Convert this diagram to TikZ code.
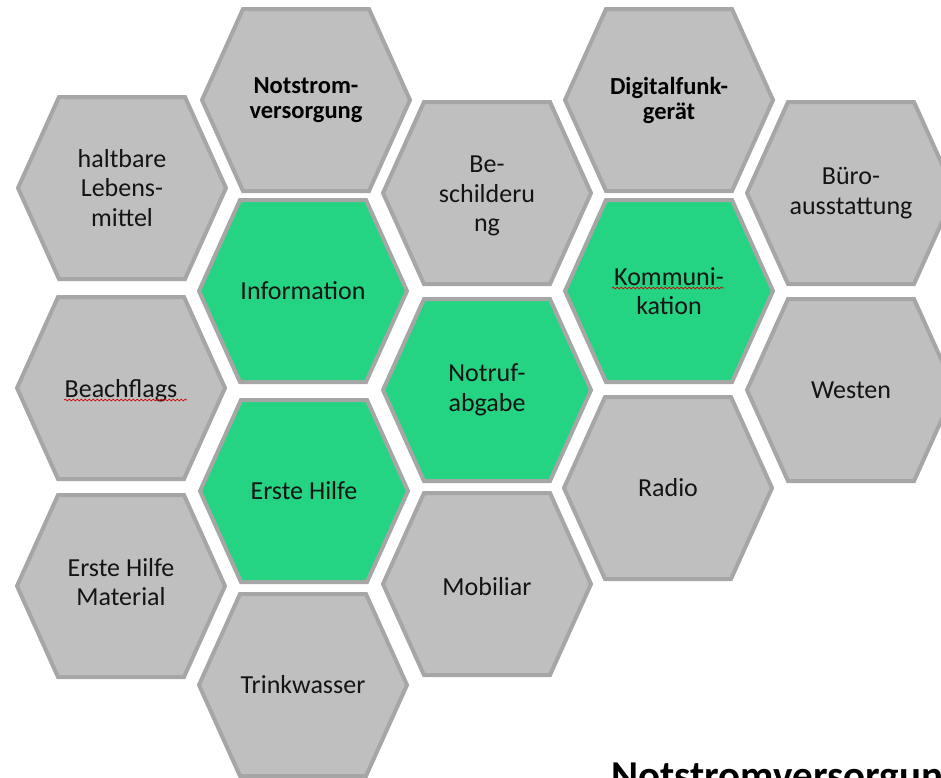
\documentclass[tikz,border=0pt]{standalone}
\usepackage{fontspec}
\setmainfont{Carlito}
\usetikzlibrary{decorations.pathmorphing}
\definecolor{hexgray}{HTML}{BFBFBF}
\definecolor{hexedge}{HTML}{A6A6A6}
\definecolor{hexgreen}{HTML}{24D483}
\definecolor{txtcol}{HTML}{141414}
\newcommand\hexcell[4]{% name, x, y, fill
  \path[hexpath, fill=#4] (#2,#3) ++(-104,0) -- ++(41,-91) -- ++(126,0) -- ++(41,91) -- ++(-41,91) -- ++(-126,0) -- cycle;
  \coordinate (#1) at (#2,#3);
}
\tikzset{
  hexpath/.style={draw=hexedge, line width=4pt, line join=miter},
  hextext/.style={align=center, text=txtcol, font=\fontsize{26}{29.5}\selectfont, inner sep=0pt},
  hexbold/.style={align=center, text=black, font=\fontsize{24.5}{25}\selectfont\bfseries, inner sep=0pt},
  spellline/.style={draw=red!85!black, line width=0.7pt, decorate, decoration={snake, amplitude=0.9pt, segment length=4pt}},
}
\begin{document}
\begin{tikzpicture}[x=1pt,y=-1pt]
\useasboundingbox (0,0) rectangle (941,777);
\clip (0,0) rectangle (941,777);
% column 0
\hexcell{h1}{122}{188}{hexgray}
\hexcell{h2}{121}{388}{hexgray}
\hexcell{h3}{121}{586}{hexgray}
% column 1
\hexcell{h4}{306}{100}{hexgray}
\hexcell{h5}{303}{291}{hexgreen}
\hexcell{h6}{304}{491}{hexgreen}
\hexcell{h7}{303}{685}{hexgray}
% column 2
\hexcell{h8}{487}{193}{hexgray}
\hexcell{h9}{487}{390}{hexgreen}
\hexcell{h10}{487}{584}{hexgray}
% column 3
\hexcell{h11}{669}{100}{hexgray}
\hexcell{h12}{669}{291}{hexgreen}
\hexcell{h13}{668}{488}{hexgray}
% column 4
\hexcell{h14}{851}{193}{hexgray}
\hexcell{h15}{851}{390}{hexgray}

\node[hextext] (t1) at (h1) {haltbare\\Lebens-\\mittel};
\node[hextext] (t2) at ([yshift=-3pt]h2) {Beachflags};
\node[hextext] (t3) at ([yshift=4pt]h3) {Erste Hilfe\\Material};
\node[hexbold] (t4) at (h4) {Notstrom-\\versorgung};
\node[hextext] (t5) at (h5) {Information};
\node[hextext] (t6) at (h6) {Erste Hilfe};
\node[hextext] (t7) at (h7) {Trinkwasser};
\node[hextext] (t8) at ([yshift=-3pt]h8) {Be-\\schilderu\\ng};
\node[hextext] (t9) at (h9) {Notruf-\\abgabe};
\node[hextext] (t10) at ([yshift=-3pt]h10) {Mobiliar};
\node[hexbold] (t11) at (h11) {Digitalfunk-\\gerät};
\node[hextext] (t12) at (h12) {Kommuni-\\kation};
\node[hextext] (t13) at (h13) {Radio};
\node[hextext] (t14) at (h14) {Büro-\\ausstattung};
\node[hextext] (t15) at (h15) {Westen};

\coordinate (w1a) at (64,400);
\coordinate (w1b) at (187,400);
\path[spellline] (w1a) -- (w1b);
\coordinate (w2a) at (612,288);
\coordinate (w2b) at (724,288);
\path[spellline] (w2a) -- (w2b);

\node[anchor=base west, inner sep=0pt, font=\fontsize{41}{49}\selectfont\bfseries, text=black] (title) at (611,789) {Notstromversorgung};
\end{tikzpicture}
\end{document}
